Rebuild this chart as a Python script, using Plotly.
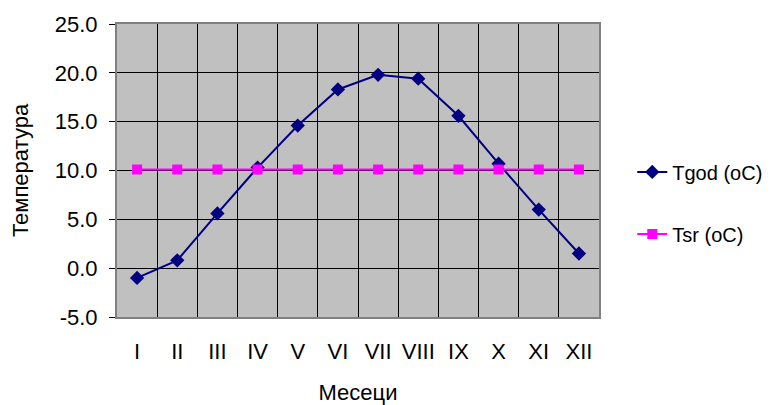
import plotly.graph_objects as go

months = ["I", "II", "III", "IV", "V", "VI", "VII", "VIII", "IX", "X", "XI", "XII"]
tgod = [-1.0, 0.8, 5.6, 10.3, 14.6, 18.3, 19.8, 19.4, 15.6, 10.7, 6.0, 1.5]
tsr = [10.1] * 12
ytick_vals = [-5, 0, 5, 10, 15, 20, 25]
ytick_text = ["-5.0", "0.0", "5.0", "10.0", "15.0", "20.0", "25.0"]

FONT = "Liberation Sans, Arial, sans-serif"

fig = go.Figure()
fig.add_trace(go.Scatter(
    x=months, y=tgod, name="Tgod (oC)", mode="lines+markers",
    line=dict(color="#000080", width=2),
    marker=dict(symbol="diamond", size=11, color="#000080"),
    legend="legend",
))
fig.add_trace(go.Scatter(
    x=months, y=tsr, name="Tsr (oC)", mode="lines+markers",
    line=dict(color="#FF00FF", width=2),
    marker=dict(symbol="square", size=10, color="#FF00FF"),
    legend="legend2",
))

fig.update_layout(
    width=780, height=405,
    margin=dict(l=117, r=178, t=24, b=88),
    paper_bgcolor="white",
    plot_bgcolor="#C0C0C0",
    font=dict(family=FONT, size=22, color="black"),
    showlegend=True,
    legend=dict(x=1.069, y=0.495, xanchor="left", yanchor="middle",
                bgcolor="rgba(0,0,0,0)", font=dict(size=20)),
    legend2=dict(x=1.069, y=0.283, xanchor="left", yanchor="middle",
                 bgcolor="rgba(0,0,0,0)", font=dict(size=20)),
    xaxis=dict(
        type="category", range=[-0.5, 11.5], automargin=False,
        tickson="boundaries", showgrid=True, gridcolor="black", gridwidth=1,
        ticks="", ticklabelstandoff=14, tickangle=0,
        showline=True, linecolor="#808080", linewidth=2, mirror=True,
        title=dict(text="Месеци", font=dict(size=22), standoff=26),
        zeroline=False,
    ),
    yaxis=dict(
        range=[-5, 25], tickvals=ytick_vals, ticktext=ytick_text, automargin=False,
        showgrid=True, gridcolor="black", gridwidth=1,
        ticks="outside", ticklen=6, tickcolor="black", ticklabelstandoff=7,
        showline=True, linecolor="#808080", linewidth=2, mirror=True,
        title=dict(text="Температура", font=dict(size=22), standoff=20),
        zeroline=False,
    ),
)

fig.write_html("out.html", config={"displayModeBar": False},
               post_script="document.body.style.margin='0';")
